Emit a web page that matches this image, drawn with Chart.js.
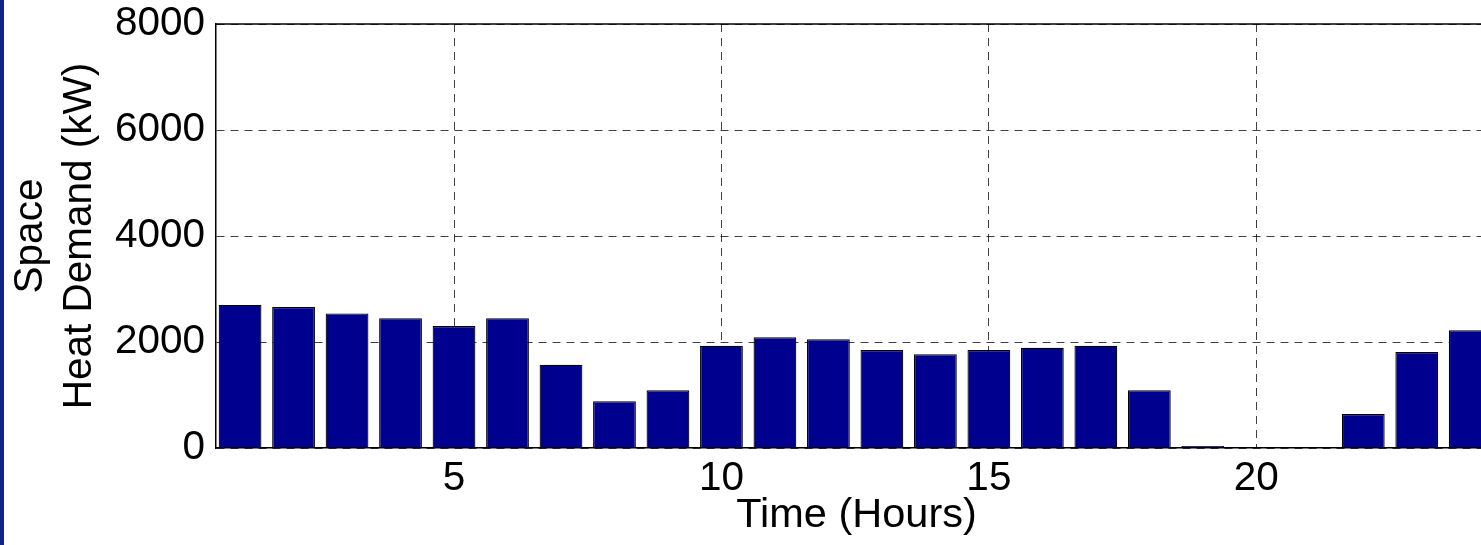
<!DOCTYPE html>
<html>
<head>
<meta charset="utf-8">
<script src="https://cdn.jsdelivr.net/npm/chart.js@4/dist/chart.umd.min.js"></script>
<style>
  html, body { margin: 0; padding: 0; background: #fff; overflow: hidden; }
  #wrap { position: relative; width: 1481px; height: 545px; overflow: hidden; }
  #strip { position: absolute; left: 0; top: 0; width: 4px; height: 545px; background: #12228a; z-index: 2; }
  canvas { position: absolute; left: 0; top: 0; }
</style>
</head>
<body>
<div id="wrap">
  <div id="strip"></div>
  <canvas id="heatChart" width="1500" height="545"></canvas>
</div>
<script>
// hours of the day and the space heat demand (kW)
const hours = [1, 2, 3, 4, 5, 6, 7, 8, 9, 10, 11, 12, 13, 14, 15, 16, 17, 18, 19, 20, 21, 22, 23, 24];
const demand = [2700, 2660, 2540, 2450, 2300, 2450, 1570, 880, 1090, 1930, 2090, 2050,
                1850, 1770, 1850, 1890, 1930, 1090, 40, 0, 0, 640, 1810, 2220];
const xTicks = [5, 10, 15, 20];
const yTicks = [0, 2000, 4000, 6000, 8000];

const fontFamily = "'Liberation Sans', Arial, sans-serif";

// top edge of the box, like MATLAB's "box on"
const boxTop = {
    id: 'boxTop',
    afterDraw(chart) {
        const a = chart.chartArea, ctx = chart.ctx;
        ctx.save();
        ctx.setLineDash([]);
        ctx.strokeStyle = '#000';
        ctx.lineWidth = 1.5;
        ctx.beginPath();
        ctx.moveTo(a.left, a.top);
        ctx.lineTo(a.right, a.top);
        ctx.stroke();
        ctx.restore();
    }
};

new Chart(document.getElementById('heatChart'), {
    type: 'bar',
    data: {
        datasets: [{
            data: hours.map((h, i) => ({ x: h, y: demand[i] })),
            backgroundColor: '#00008f',
            borderColor: '#000',
            borderWidth: 1.2,
            barPercentage: 0.8,
            categoryPercentage: 1.0
        }]
    },
    options: {
        responsive: false,
        animation: false,
        layout: { padding: { left: 0, right: 3, top: 24, bottom: 0 } },
        plugins: { legend: { display: false }, tooltip: { enabled: false } },
        scales: {
            x: {
                type: 'linear',
                offset: false,
                min: 0.55,
                max: 24.5,
                afterBuildTicks: s => { s.ticks = xTicks.map(v => ({ value: v })); },
                afterFit: s => { s.height = 97; s.paddingLeft = 0; s.paddingRight = 0; },
                grid: { offset: false, color: 'rgba(0,0,0,0.75)', lineWidth: 1, drawTicks: false },
                border: { display: true, color: '#000', width: 1.5, dash: [8, 6] },
                ticks: { color: '#000', font: { family: fontFamily, size: 40.5 }, padding: 7, maxRotation: 0,
                         callback: v => String(v) },
                title: {
                    display: true, text: 'Time (Hours)', color: '#000',
                    font: { family: fontFamily, size: 41.5 }, padding: { top: 0, bottom: 5 }
                }
            },
            y: {
                min: 0,
                max: 8000,
                afterBuildTicks: s => { s.ticks = yTicks.map(v => ({ value: v })); },
                afterFit: s => { s.width = 216; s.paddingTop = 0; s.paddingBottom = 0; },
                grid: { color: 'rgba(0,0,0,0.75)', lineWidth: 1, drawTicks: false },
                border: { display: true, color: '#000', width: 1.5, dash: [8, 6] },
                ticks: { color: '#000', font: { family: fontFamily, size: 40.5 }, padding: 11,
                         callback: v => String(v) },
                title: {
                    display: true, text: ['Space', 'Heat Demand (kW)'], color: '#000',
                    font: { family: fontFamily, size: 40.5 }, padding: { top: 7, bottom: 0 }
                }
            }
        }
    },
    plugins: [boxTop]
});
</script>
</body>
</html>
